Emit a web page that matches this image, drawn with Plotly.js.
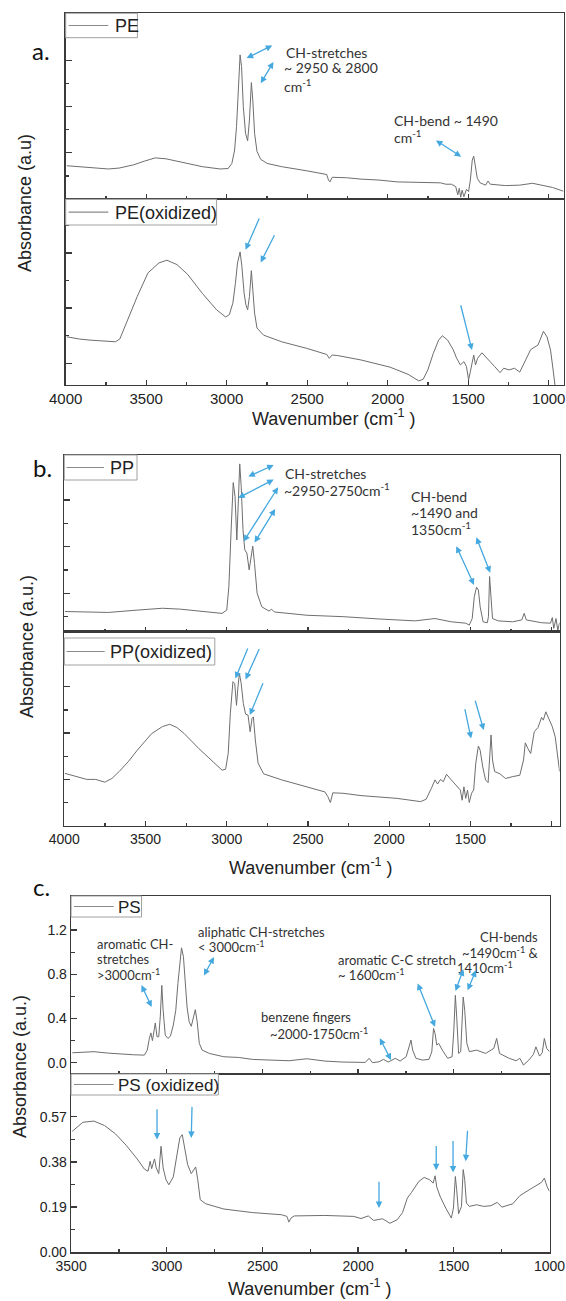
<!DOCTYPE html>
<html><head><meta charset="utf-8">
<script src="https://cdn.plot.ly/plotly-3.0.1.min.js"></script>
<style>html,body{margin:0;padding:0;background:#fff}#chart{width:566px;height:1301px}</style>
</head><body><div id="chart"></div>
<script>
// ---------------- data ----------------
const peWn=[3993,3915,3825,3735,3668,3578,3511,3444,3377,3287,3152,3040,2991,2968,2951,2939,2928,2917,2908,2897,2883,2870,2859,2847,2838,2827,2812,2789,2749,2659,2502,2379,2368,2359,2345,2256,2166,2054,1941,1829,1717,1673,1639,1605,1578,1565,1556,1547,1538,1527,1511,1498,1487,1475,1466,1457,1444,1426,1392,1377,1363,1269,1180,1101,1044,977,910];
const peAbs=[0.72,0.70,0.68,0.65,0.67,0.74,0.82,0.89,0.87,0.80,0.70,0.65,0.66,0.77,1.06,1.57,2.51,3.12,2.87,2.00,1.42,1.26,1.71,2.52,2.14,1.42,1.03,0.86,0.77,0.70,0.61,0.53,0.41,0.37,0.47,0.46,0.43,0.41,0.37,0.36,0.34,0.35,0.32,0.32,0.27,0.09,0.23,0.04,0.19,0.05,0.21,0.16,0.41,0.84,0.93,0.70,0.45,0.35,0.30,0.39,0.32,0.29,0.30,0.34,0.30,0.25,0.17];

const peOxWn=[3993,3915,3848,3758,3691,3664,3623,3556,3489,3421,3372,3309,3242,3152,3063,3007,2984,2962,2946,2933,2917,2906,2892,2881,2870,2859,2847,2838,2827,2812,2771,2659,2502,2379,2363,2345,2311,2166,1986,1874,1807,1780,1751,1717,1684,1661,1628,1594,1572,1549,1527,1511,1498,1487,1475,1466,1455,1442,1415,1381,1336,1302,1280,1246,1213,1180,1146,1112,1067,1033,1011,989,973,955];
const peOxAbs=[1.48,1.44,1.42,1.41,1.39,1.44,1.73,2.21,2.64,2.82,2.87,2.79,2.61,2.27,1.97,1.84,1.88,2.09,2.45,2.82,3.02,2.76,2.27,2.06,1.97,2.21,2.68,2.33,1.91,1.64,1.51,1.39,1.27,1.16,1.09,1.15,1.14,1.06,0.93,0.80,0.68,0.71,0.88,1.18,1.42,1.50,1.42,1.25,1.09,0.97,1.03,0.94,0.70,0.85,1.06,1.15,0.97,1.09,1.19,1.09,0.94,0.83,0.91,0.88,0.91,0.84,1.06,1.25,1.33,1.58,1.48,1.24,0.88,0.45];

const ppWn=[3996,3840,3729,3551,3396,3284,3151,3029,3000,2987,2973,2960,2949,2938,2929,2920,2911,2900,2889,2876,2862,2851,2840,2829,2813,2784,2740,2724,2707,2507,2284,2062,1840,1718,1618,1529,1507,1489,1476,1462,1451,1440,1422,1396,1389,1382,1373,1364,1329,1240,1184,1169,1156,1062,1007,996,987,973,962,951];
const ppAbs=[0.61,0.59,0.59,0.64,0.68,0.66,0.61,0.57,0.64,1.14,2.36,3.37,3.07,2.14,2.93,3.77,3.29,2.36,1.93,1.86,1.50,1.79,2.01,1.64,1.00,0.71,0.62,0.66,0.60,0.53,0.50,0.45,0.41,0.46,0.39,0.36,0.32,0.46,0.93,1.13,1.07,0.71,0.39,0.37,0.50,1.36,0.93,0.46,0.41,0.39,0.43,0.57,0.43,0.37,0.36,0.48,0.25,0.46,0.21,0.37];

const ppOxWn=[3996,3929,3862,3807,3751,3707,3662,3607,3551,3462,3396,3351,3307,3262,3173,3084,3029,3007,2991,2978,2962,2951,2940,2931,2922,2911,2898,2884,2869,2856,2844,2836,2824,2807,2773,2662,2507,2396,2378,2362,2347,2284,2173,1951,1807,1773,1740,1718,1702,1684,1667,1647,1618,1584,1562,1551,1540,1529,1518,1507,1493,1480,1467,1451,1440,1424,1407,1391,1382,1373,1364,1351,1318,1284,1240,1196,1173,1162,1147,1129,1107,1084,1062,1051,1036,1013,996,978,962,951];
const ppOxAbs=[1.13,1.07,1.00,1.00,0.94,1.02,1.17,1.38,1.63,1.99,2.14,2.19,2.12,1.99,1.67,1.38,1.20,1.22,1.56,2.42,3.11,3.07,2.60,3.00,3.29,3.07,2.64,2.41,2.39,2.03,2.32,2.35,1.85,1.35,1.12,0.99,0.84,0.73,0.63,0.50,0.71,0.70,0.65,0.59,0.52,0.57,0.81,0.99,0.90,1.00,0.95,1.11,0.99,0.86,0.77,0.55,0.84,0.59,0.77,0.50,0.70,0.77,1.35,1.72,1.63,1.27,0.99,0.93,1.35,1.96,1.42,1.17,1.12,1.02,1.06,1.09,1.42,1.79,1.67,1.56,2.03,2.12,2.34,2.28,2.46,2.29,2.14,1.92,1.42,1.17];

const psWn=[3494,3438,3381,3306,3249,3174,3117,3102,3091,3083,3075,3068,3060,3051,3042,3034,3026,3019,3008,2994,2981,2966,2953,2942,2932,2923,2913,2904,2894,2883,2872,2860,2851,2841,2830,2815,2777,2702,2626,2551,2457,2362,2268,2174,2079,2004,1962,1943,1925,1891,1868,1843,1806,1781,1749,1734,1724,1715,1698,1664,1630,1615,1606,1598,1589,1579,1560,1532,1509,1500,1492,1485,1475,1464,1457,1451,1443,1432,1419,1381,1334,1291,1276,1261,1211,1174,1155,1136,1108,1084,1071,1052,1038,1027,1015,1000];
const psAbs=[0.09,0.093,0.10,0.087,0.078,0.072,0.069,0.114,0.22,0.27,0.20,0.265,0.36,0.235,0.235,0.415,0.70,0.475,0.25,0.22,0.24,0.34,0.475,0.716,0.926,1.04,0.96,0.746,0.505,0.37,0.33,0.415,0.48,0.37,0.175,0.114,0.084,0.054,0.048,0.03,0.024,0.018,0.036,0.015,0.006,0.0,0.003,0.04,0.0,0.009,0.03,0.006,0.04,0.015,0.054,0.144,0.205,0.114,0.04,0.024,0.03,0.10,0.31,0.265,0.16,0.175,0.114,0.04,0.054,0.295,0.61,0.415,0.084,0.10,0.415,0.595,0.475,0.175,0.10,0.114,0.084,0.13,0.22,0.084,0.04,0.018,0.04,-0.021,0.024,0.075,0.144,0.06,0.09,0.22,0.13,0.10];

const psOxWn=[3494,3438,3381,3325,3268,3211,3155,3117,3098,3087,3079,3064,3055,3042,3030,3019,3004,2989,2966,2947,2932,2919,2906,2891,2872,2858,2849,2838,2825,2796,2702,2551,2400,2372,2362,2351,2334,2174,2023,1985,1947,1919,1872,1834,1796,1768,1743,1721,1702,1683,1655,1626,1608,1598,1589,1570,1542,1513,1502,1492,1485,1475,1460,1451,1443,1434,1419,1381,1344,1306,1273,1249,1192,1155,1098,1060,1042,1027,1013,1000];
const psOxAbs=[0.509,0.547,0.552,0.533,0.498,0.449,0.393,0.350,0.341,0.383,0.352,0.393,0.355,0.331,0.446,0.355,0.305,0.284,0.317,0.401,0.481,0.495,0.443,0.369,0.331,0.345,0.359,0.305,0.221,0.204,0.182,0.167,0.158,0.151,0.127,0.144,0.153,0.155,0.151,0.142,0.153,0.134,0.141,0.122,0.137,0.167,0.228,0.252,0.277,0.298,0.315,0.305,0.291,0.322,0.274,0.232,0.186,0.144,0.186,0.319,0.263,0.162,0.193,0.348,0.305,0.207,0.193,0.200,0.193,0.196,0.210,0.190,0.204,0.238,0.267,0.284,0.294,0.312,0.277,0.256];

const seriesNames=['PE','PE(oxidized)','PP','PP(oxidized)','PS','PS (oxidized)'];
const xTickVals=[4000,3500,3000,2500,2000,1500,1000];
const psTickVals=[0,0.4,0.8,1.2];
const psTickText=['0.0','0.4','0.8','1.2'];
const psOxTickVals=[0,0.19,0.38,0.57];
const psOxTickText=['0.00','0.19','0.38','0.57'];
const arbTickVals=[1,2,3];

// ---------------- layout geometry ----------------
const W=566,H=1301;
const fx=p=>p/W, fy=p=>1-p/H;
const panels=[
 {l:65.7,r:563.9,t:13.3,b:199,  xr:[4000,906], yr:[0,4.02],    lab:false},
 {l:65.7,r:563.9,t:199, b:385,  xr:[4000,906], yr:[0.606,3.98], lab:true, tf:15},
 {l:64.3,r:559.6,t:455, b:631.7,xr:[4000,951], yr:[0.178,3.96], lab:false},
 {l:64.3,r:559.6,t:631.7,b:825.7,xr:[4000,951],yr:[0,4.19],    lab:true, tf:14},
 {l:71.1,r:549.5,t:896, b:1074, xr:[3500,1000],yr:[-0.102,1.509],lab:false},
 {l:71.1,r:549.5,t:1074,b:1252.3,xr:[3500,1000],yr:[0,0.75],    lab:true, tf:14}
];
const xs=[peWn,peOxWn,ppWn,ppOxWn,psWn,psOxWn];
const ys=[peAbs,peOxAbs,ppAbs,ppOxAbs,psAbs,psOxAbs];
// legend boxes: [boxL, boxT, boxR, boxB, lineL, lineR, textL, fontSize]
const legBoxes=[
 [65.7,13.3,137.4,37.7,68.6,108.3,113.2,18],
 [65.7,199.3,216.6,225,68.6,108.3,113.2,18],
 [64.3,455,137,480,66.5,104,108,18],
 [64.3,638,214.8,665,66.5,104.7,108,18],
 [71.1,896,141.5,917,74,113.7,116,17],
 [71.1,1074,218.4,1095,74,113.7,116,17]
];

const AX='#3a3a3a', LINE='#6e6e6e', BLUE='#45a8df', TXT='#333333';
const tickFont='Liberation Sans, Arial, sans-serif';
const traces=[]; const layout={width:W,height:H,margin:{l:0,r:0,t:0,b:0},paper_bgcolor:'#fff',plot_bgcolor:'#fff',showlegend:false,annotations:[],shapes:[]};
const A=layout.annotations, S=layout.shapes;

panels.forEach((p,i)=>{
  const n=i+1, sx=n===1?'':String(n);
  traces.push({x:xs[i],y:ys[i],xaxis:'x'+sx,yaxis:'y'+sx,type:'scatter',mode:'lines',
    line:{color:LINE,width:1},name:seriesNames[i],hoverinfo:'skip'});
  layout['xaxis'+sx]={domain:[fx(p.l),fx(p.r)],range:p.xr,anchor:'y'+sx,showline:true,mirror:true,
    linecolor:AX,linewidth:1.4,showgrid:false,zeroline:false,ticks:'inside',ticklen:5,tickwidth:1.3,tickcolor:AX,
    tickmode:'array',tickvals:xTickVals,ticktext:xTickVals.map(String),showticklabels:p.lab,
    tickfont:{family:tickFont,size:p.tf||14,color:'#222'},
    minor:{ticks:'inside',ticklen:3,tickwidth:1.2,tickcolor:AX,dtick:250,tick0:0,showgrid:false}};
  let yt;
  if(n<=4) yt={tickmode:'array',tickvals:arbTickVals,showticklabels:false,minor:{ticks:'inside',ticklen:3.5,tickwidth:1.2,tickcolor:AX,tickmode:'array',tickvals:[0.5,1.5,2.5,3.5],showgrid:false}};
  else if(n===5) yt={tickmode:'array',tickvals:psTickVals,ticktext:psTickText,showticklabels:true,minor:{ticks:'inside',ticklen:3.5,tickwidth:1.2,tickcolor:AX,tickmode:'array',tickvals:[0.2,0.6,1.0,1.4],showgrid:false}};
  else yt={tickmode:'array',tickvals:psOxTickVals,ticktext:psOxTickText,showticklabels:true,minor:{ticks:'inside',ticklen:3.5,tickwidth:1.2,tickcolor:AX,tickmode:'array',tickvals:[0.095,0.285,0.475,0.665],showgrid:false}};
  layout['yaxis'+sx]=Object.assign({domain:[fy(p.b),fy(p.t)],range:p.yr,anchor:'x'+sx,showline:true,mirror:true,
    linecolor:AX,linewidth:1.4,showgrid:false,zeroline:false,ticks:'inside',ticklen:6,tickwidth:1.3,tickcolor:AX,
    tickfont:{family:tickFont,size:14,color:'#222'}},yt);

  // legend box drawn as shapes + text
  const b=legBoxes[i], cy=(b[1]+b[3])/2;
  S.push({type:'rect',xref:'paper',yref:'paper',x0:fx(b[0]),x1:fx(b[2]),y0:fy(b[3]),y1:fy(b[1]),
    fillcolor:'#ffffff',line:{color:'#a0a0a0',width:1},layer:'above'});
  S.push({type:'line',xref:'paper',yref:'paper',x0:fx(b[4]),x1:fx(b[5]),y0:fy(cy),y1:fy(cy),
    line:{color:'#8a8a8a',width:1.2},layer:'above'});
  A.push({text:seriesNames[i],xref:'paper',yref:'paper',x:fx(b[6]),y:fy(cy+0.5),showarrow:false,
    xanchor:'left',yanchor:'middle',font:{family:tickFont,size:b[7],color:'#222'}});
});

// axis titles, panel letters
const yTitles=[['Absorbance (a.u)',25,203],['Absorbance (a.u.)',27,647],['Absorbance (a.u.)',20,1067]];
yTitles.forEach(t=>A.push({text:t[0],xref:'paper',yref:'paper',x:fx(t[1]),y:fy(t[2]),textangle:-90,showarrow:false,
  xanchor:'center',yanchor:'middle',font:{family:tickFont,size:18,color:'#222'}}));
const xTitles=[[334,418],[311,866],[310,1287]];
xTitles.forEach(t=>A.push({text:'Wavenumber (cm<sup>-1</sup> )',xref:'paper',yref:'paper',x:fx(t[0]),y:fy(t[1]),showarrow:false,
  xanchor:'center',yanchor:'middle',font:{family:tickFont,size:18,color:'#222'}}));
[['a.',30,51],['b.',31,467],['c.',31,887]].forEach(t=>A.push({text:t[0],xref:'paper',yref:'paper',x:fx(t[1]),y:fy(t[2]),
  showarrow:false,xanchor:'left',yanchor:'middle',font:{family:'Lato, sans-serif',size:24,color:'#111'}}));

// annotation text lines: [text, left px, center px, size]
const notes=[
 ['CH-stretches',284,53,14],['~ 2950 &amp; 2800',281.6,67.5,14],['cm<sup>-1</sup>',281.6,85.5,14],
 ['CH-bend ~ 1490',391.7,120,14],['cm<sup>-1</sup>',391.7,137,14],
 ['CH-stretches',282.7,473.3,14],['~2950-2750cm<sup>-1</sup>',282.3,489.8,14],
 ['CH-bend',408.7,496.7,14],['~1490 and',408.7,512.3,14],['1350cm<sup>-1</sup>',408.7,528.5,14],
 ['aromatic CH-',94.6,944,13],['stretches',94.6,959.3,13],['&gt;3000cm<sup>-1</sup>',94.6,974,13],
 ['aliphatic CH-stretches',196,931.7,13],['&lt; 3000cm<sup>-1</sup>',196,946.5,13],
 ['aromatic C-C stretch',335.7,960,13],['~ 1600cm<sup>-1</sup>',335.7,974.5,13],
 ['benzene fingers',258.8,1016.7,13],['~2000-1750cm<sup>-1</sup>',267.9,1033.8,13],
 ['CH-bends',478.3,936.7,13],['~1490cm<sup>-1</sup> &amp;',460.3,952.2,13],['1410cm<sup>-1</sup>',454.9,967.2,13]
];
notes.forEach(t=>A.push({text:t[0],xref:'paper',yref:'paper',x:fx(t[1]),y:fy(t[2]),showarrow:false,
  xanchor:'left',yanchor:'middle',font:{family:'Lato, sans-serif',size:t[3],color:TXT}}));

// arrows: [panel, head wn, head val, tail wn, tail val, double]
const arrows=[
 [1,2876,3.05,2708,3.34,1],[1,2789,2.505,2704,3.0,1],[1,1544,0.917,1710,1.29,1],
 [2,2883,3.06,2794,3.655,0],[2,2789,2.83,2699,3.35,0],[2,1477,1.24,1549,2.08,0],
 [3,2867,3.5,2702,3.76,1],[3,2929,3.04,2702,3.45,1],[3,2896,2.11,2678,3.3,1],[3,2829,2.086,2696,2.836,1],
 [3,1478,1.18,1591,2.04,1],[3,1378,1.44,1467,2.23,1],
 [4,2947,3.18,2867,3.86,0],[4,2884,3.16,2796,3.85,0],[4,2858,2.39,2773,3.11,0],[4,1496,1.885,1536,2.55,0],[4,1418,2.065,1473,2.73,0],
 [5,3079,0.505,3136,0.716,1],[5,2806,0.79,2749,0.97,1],[5,1828,0.024,1891,0.235,1],[5,1598,0.325,1692,0.731,1],
 [5,1491,0.65,1447,0.86,1],[5,1428,0.656,1381,0.851,1],
 [6,3051,0.474,3051,0.608,0],[6,2872,0.481,2868,0.618,0],[6,1891,0.186,1891,0.303,0],[6,1592,0.345,1592,0.453,0],
 [6,1504,0.336,1504,0.474,0],[6,1438,0.383,1428,0.517,0]
];
arrows.forEach(a=>{
  const sx=a[0]===1?'':String(a[0]);
  A.push({text:'',xref:'x'+sx,yref:'y'+sx,axref:'x'+sx,ayref:'y'+sx,x:a[1],y:a[2],ax:a[3],ay:a[4],
    showarrow:true,arrowhead:2,startarrowhead:2,arrowside:a[5]?'end+start':'end',arrowsize:1,startarrowsize:1,
    arrowwidth:1.3,arrowcolor:BLUE,standoff:0,startstandoff:0});
});

Plotly.newPlot('chart',traces,layout,{staticPlot:true,displayModeBar:false});
</script>
</body></html>
